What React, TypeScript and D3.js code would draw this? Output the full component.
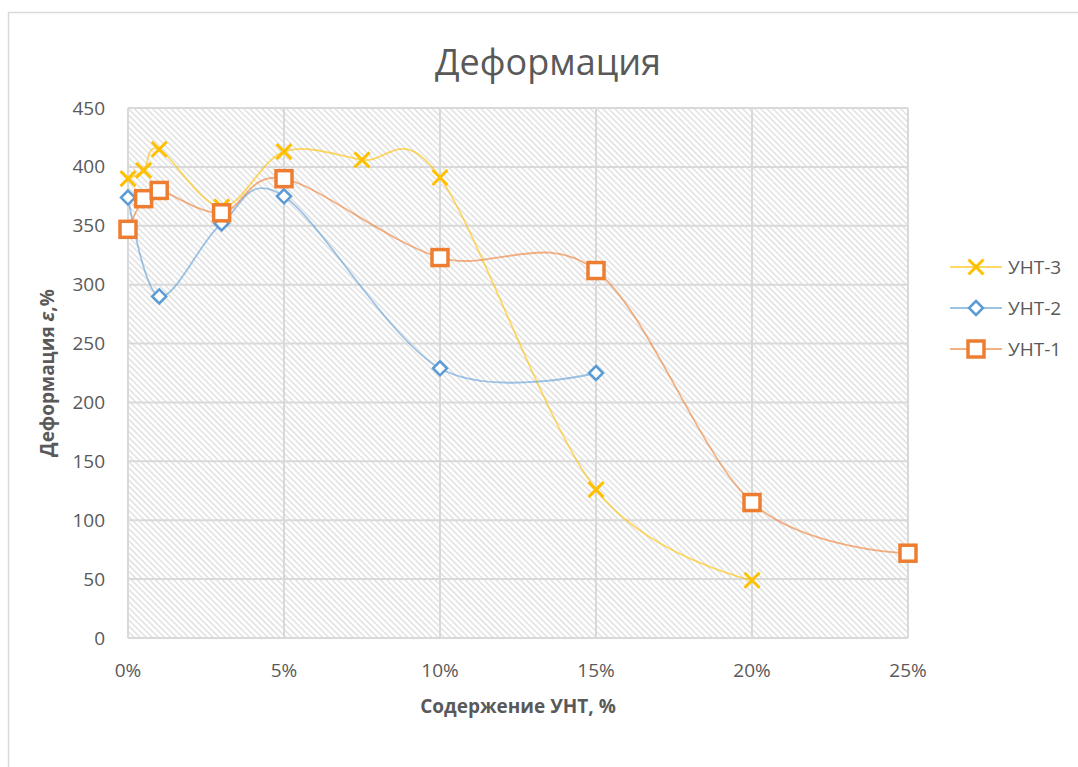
import React from 'react';
import * as d3 from 'd3';

interface Pt {
  x: number;
  y: number;
}

// содержание УНТ, %
const x3 = [0, 0.5, 1, 3, 5, 7.5, 10, 15, 20];
const y3 = [390, 397, 415, 366, 413, 406, 391, 126, 49];

const x2 = [0, 1, 3, 5, 10, 15];
const y2 = [374, 290, 352, 375, 229, 225];

const x1 = [0, 0.5, 1, 3, 5, 10, 15, 20, 25];
const y1 = [347, 373, 380, 361, 390, 323, 312, 115, 72];

const xTicks = [0, 5, 10, 15, 20, 25];
const yTicks = [0, 50, 100, 150, 200, 250, 300, 350, 400, 450];

const seriesNames = ['УНТ-3', 'УНТ-2', 'УНТ-1'];
const colors = ['#FFC000', '#5B9BD5', '#ED7D31'];

const FONT = '"Open Sans", "Noto Sans", sans-serif';
const TXT = '#595959';

const zip = (xs: number[], ys: number[]): Pt[] => xs.map((x, i) => ({ x, y: ys[i] }));

const Marker: React.FC<{ kind: number; cx: number; cy: number }> = ({ kind, cx, cy }) => {
  if (kind === 0) {
    const s = 7.5;
    return (
      <path
        d={`M${cx - s},${cy - s}L${cx + s},${cy + s}M${cx - s},${cy + s}L${cx + s},${cy - s}`}
        stroke={colors[0]}
        strokeWidth={3}
        fill="none"
      />
    );
  }
  if (kind === 1) {
    const s = 7;
    return (
      <path
        d={`M${cx},${cy - s}L${cx + s},${cy}L${cx},${cy + s}L${cx - s},${cy}Z`}
        stroke={colors[1]}
        strokeWidth={2.5}
        fill="#fff"
      />
    );
  }
  const s = 8;
  return (
    <rect x={cx - s} y={cy - s} width={s * 2} height={s * 2} stroke={colors[2]} strokeWidth={3.5} fill="#fff" />
  );
};

const App: React.FC = () => {
  const W = 1078;
  const H = 767;
  const plot = { left: 128, right: 908, top: 108, bottom: 638 };

  const x = d3.scaleLinear().domain([0, 25]).range([plot.left, plot.right]);
  const y = d3.scaleLinear().domain([0, 450]).range([plot.bottom, plot.top]);

  const line = d3
    .line<Pt>()
    .x((d) => x(d.x))
    .y((d) => y(d.y))
    .curve(d3.curveCardinal.tension(0));

  const series = [zip(x3, y3), zip(x2, y2), zip(x1, y1)];

  return (
    <svg
      width={W}
      height={H}
      style={{ position: 'absolute', left: 0, top: 0, background: '#fff' }}
      fontFamily={FONT}
    >
      <defs>
        <pattern id="hatch" width={4.3} height={8} patternUnits="userSpaceOnUse" patternTransform="rotate(-45)">
          <line x1={1} y1={0} x2={1} y2={8} stroke="#d9d9d9" strokeWidth={1.2} />
        </pattern>
      </defs>
      <rect x={8.5} y={12.5} width={1200} height={900} fill="#fff" stroke="#d9d9d9" strokeWidth={1.5} />

      <text x={548} y={75} textAnchor="middle" fontSize={36} fill={TXT}>
        Деформация
      </text>

      <rect
        x={plot.left}
        y={plot.top}
        width={plot.right - plot.left}
        height={plot.bottom - plot.top}
        fill="url(#hatch)"
      />

      {yTicks.map((t) => (
        <g key={`y${t}`}>
          <line x1={plot.left} x2={plot.right} y1={y(t)} y2={y(t)} stroke="#d9d9d9" strokeWidth={2} />
          <text x={105} y={y(t) + 6.5} textAnchor="end" fontSize={19} fill={TXT}>
            {t}
          </text>
        </g>
      ))}
      {xTicks.map((t) => (
        <g key={`x${t}`}>
          <line x1={x(t)} x2={x(t)} y1={plot.top} y2={plot.bottom} stroke="#d9d9d9" strokeWidth={2} />
          <text x={x(t)} y={677} textAnchor="middle" fontSize={19} fill={TXT}>
            {`${t}%`}
          </text>
        </g>
      ))}

      <text x={518} y={713} textAnchor="middle" fontSize={19} fontWeight="bold" fill={TXT}>
        Содержение УНТ, %
      </text>
      <text
        transform={`translate(54,${(plot.top + plot.bottom) / 2}) rotate(-90)`}
        textAnchor="middle"
        fontSize={19}
        fontWeight="bold"
        fill={TXT}
      >
        Деформация <tspan fontStyle="italic">ε</tspan>,%
      </text>

      {series.map((s, i) => (
        <g key={`s${i}`}>
          <path d={line(s) ?? ''} fill="none" stroke={colors[i]} strokeWidth={1.8} strokeOpacity={0.6} />
          {s.map((d, j) => (
            <Marker key={j} kind={i} cx={x(d.x)} cy={y(d.y)} />
          ))}
        </g>
      ))}

      {seriesNames.map((n, i) => {
        const ly = 267 + i * 41;
        return (
          <g key={n}>
            <line x1={950} x2={1002} y1={ly} y2={ly} stroke={colors[i]} strokeWidth={1.8} strokeOpacity={0.6} />
            <Marker kind={i} cx={976} cy={ly} />
            <text x={1008} y={ly + 6.5} fontSize={19} fill={TXT}>
              {n}
            </text>
          </g>
        );
      })}
    </svg>
  );
};

export default App;
